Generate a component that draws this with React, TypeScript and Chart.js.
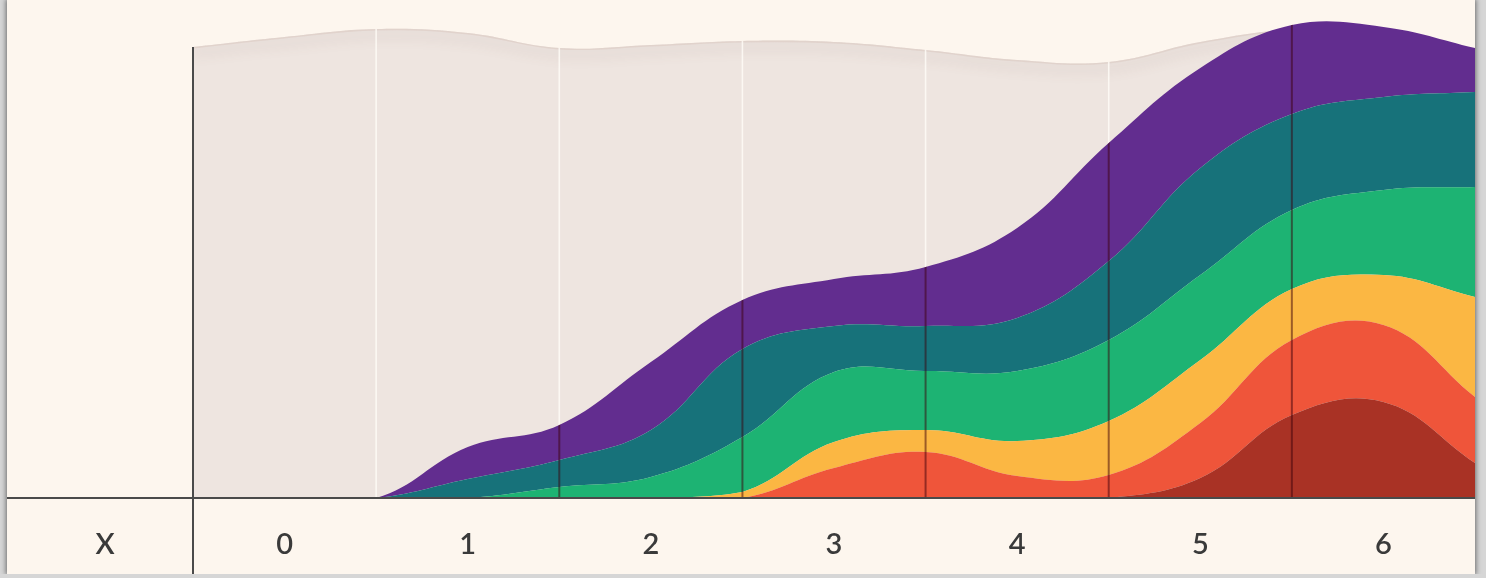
import React, { useEffect, useRef } from "react";
import { Chart, registerables } from "chart.js";

Chart.register(...registerables);

// x positions (category units; categories are the integers, half steps are the grid lines)
const xPositions = [-0.5, 0, 0.5, 1, 1.5, 2, 2.5, 3, 3.5, 4, 4.5, 5, 5.5, 6, 6.5];
const tickValues = [0, 1, 2, 3, 4, 5, 6];
const tickLabels = ["0", "1", "2", "3", "4", "5", "6"];
const rowHeader = "X";
const gridPositions = [0.5, 1.5, 2.5, 3.5, 4.5, 5.5];

// stacked series, bottom to top
const darkRed = [0, 0, 0, 0, 0, 0, 0, 0, 0, 0, 0, 20, 83, 96, 35];
const red = [0, 0, 0, 0, 0, 0, 0, 30, 46, 22, 23, 55, 75, 77, 66];
const yellow = [0, 0, 0, 0, 0, 0, 6, 26, 22, 35, 54, 63, 51, 50, 100];
const green = [0, 0, 0, 0, 11, 21, 55, 70, 59, 70, 81, 85, 79, 85, 110];
const teal = [0, 0, 0, 19, 27, 47, 88, 46, 45, 53, 79, 107, 96, 93, 95];
const purple = [0, 0, 0, 32, 35, 68, 49, 47, 59, 90, 118, 100, 89, 70, 44];
// light backdrop band behind the stack
const backdrop = [451, 461, 469, 465, 450, 453, 457, 456, 448, 438, 436, 456, 468, 463, 443];

const seriesNames = ["Dark red", "Red", "Yellow", "Green", "Teal", "Purple"];
const seriesValues = [darkRed, red, yellow, green, teal, purple];
const seriesColors = ["#A93225", "#EF553A", "#FBB743", "#1DB373", "#17727A", "#622D8F"];

const FONT = "Lato, 'Noto Sans', sans-serif";
const TEXT = "#3a3a3a";
const TENSION = 0.4;

export default function App() {
  const ref = useRef<HTMLCanvasElement>(null);

  useEffect(() => {
    document.body.style.margin = "0";
    document.body.style.background = "#d6d6d6";
    const canvas = ref.current!;
    const mk = (d: number[]) => xPositions.map((x, i) => ({ x, y: d[i] }));

    const datasets: any[] = seriesValues.map((vals, i) => ({
      label: seriesNames[i],
      data: mk(vals),
      backgroundColor: seriesColors[i],
      borderWidth: 0,
      pointRadius: 0,
      pointHoverRadius: 0,
      fill: i === 0 ? "origin" : "-1",
      stack: "main",
      order: 0,
      tension: TENSION,
    }));
    const BG_INDEX = datasets.length;
    const TOP_INDEX = seriesValues.length - 1;
    datasets.push({
      label: "Backdrop",
      data: mk(backdrop),
      backgroundColor: "#EEE5E0",
      borderWidth: 0,
      pointRadius: 0,
      pointHoverRadius: 0,
      fill: "origin",
      stack: "bg",
      order: 1,
      tension: TENSION,
    });

    const clipTo = (chart: any, line: any) => {
      const { ctx, chartArea } = chart;
      ctx.beginPath();
      line.path(ctx);
      ctx.lineTo(chartArea.right, chartArea.bottom);
      ctx.lineTo(chartArea.left, chartArea.bottom);
      ctx.closePath();
      ctx.clip();
    };

    const tablePlugin = {
      id: "tableDecor",
      afterDatasetDraw(chart: any, args: any) {
        if (args.index !== BG_INDEX) return;
        const { ctx, chartArea, scales } = chart;
        const line = args.meta.dataset;
        ctx.save();
        clipTo(chart, line);
        // soft inner shadow along the top edge
        ctx.beginPath();
        line.path(ctx);
        ctx.strokeStyle = "rgba(222,208,200,0.8)";
        ctx.lineWidth = 3;
        ctx.shadowColor = "rgba(120,90,80,0.3)";
        ctx.shadowBlur = 14;
        ctx.shadowOffsetY = 5;
        ctx.stroke();
        ctx.shadowColor = "transparent";
        ctx.shadowBlur = 0;
        ctx.shadowOffsetY = 0;
        ctx.strokeStyle = "rgba(255,252,248,0.8)";
        ctx.lineWidth = 1.6;
        gridPositions.forEach((v) => {
          const px = scales.x.getPixelForValue(v);
          ctx.beginPath();
          ctx.moveTo(px, chartArea.top);
          ctx.lineTo(px, chartArea.bottom);
          ctx.stroke();
        });
        ctx.restore();
      },
      afterDatasetsDraw(chart: any) {
        const { ctx, chartArea, scales } = chart;
        const line = chart.getDatasetMeta(TOP_INDEX).dataset;
        ctx.save();
        clipTo(chart, line);
        ctx.strokeStyle = "rgba(60,0,10,0.5)";
        ctx.lineWidth = 2;
        gridPositions.forEach((v) => {
          const px = scales.x.getPixelForValue(v);
          ctx.beginPath();
          ctx.moveTo(px, chartArea.top);
          ctx.lineTo(px, chartArea.bottom);
          ctx.stroke();
        });
        ctx.restore();
      },
      afterDraw(chart: any) {
        const { ctx, chartArea, scales } = chart;
        ctx.save();
        ctx.strokeStyle = "#4a4a4a";
        ctx.lineWidth = 2;
        ctx.beginPath();
        ctx.moveTo(0, chartArea.bottom);
        ctx.lineTo(chartArea.right, chartArea.bottom);
        ctx.stroke();
        ctx.beginPath();
        ctx.moveTo(chartArea.left, scales.y.getPixelForValue(backdrop[0]));
        ctx.lineTo(chartArea.left, chart.height);
        ctx.stroke();
        ctx.fillStyle = TEXT;
        ctx.font = `600 29px ${FONT}`;
        ctx.textAlign = "center";
        ctx.textBaseline = "middle";
        ctx.fillText(rowHeader, chartArea.left / 2 + 5, chartArea.bottom + 47);
        ctx.restore();
      },
    };

    const chart = new Chart(canvas, {
      type: "line",
      data: { datasets },
      options: {
        animation: false,
        responsive: true,
        maintainAspectRatio: false,
        events: [],
        layout: { padding: { left: 186, right: 0, top: 18, bottom: 0 } },
        plugins: { legend: { display: false }, tooltip: { enabled: false } },
        scales: {
          x: {
            type: "linear",
            min: -0.5,
            max: 6.5,
            grid: { display: false, drawTicks: false },
            border: { display: false },
            afterBuildTicks: (s: any) => {
              s.ticks = tickValues.map((v) => ({ value: v }));
            },
            afterFit: (s: any) => {
              s.height = 76;
            },
            ticks: {
              autoSkip: false,
              maxRotation: 0,
              padding: 29,
              color: TEXT,
              font: { family: FONT, size: 29, weight: "600" },
              callback: (v: any) => {
                const i = tickValues.indexOf(Number(v));
                return i >= 0 ? tickLabels[i] : "";
              },
            },
          },
          y: { stacked: true, display: false, min: 0, max: 480 },
        },
      },
      plugins: [tablePlugin],
    });
    return () => chart.destroy();
  }, []);

  return (
    <div
      style={{
        position: "relative",
        marginLeft: 7,
        width: 1468,
        height: 574,
        background: "#FDF6EE",
        boxShadow: "0 0 5px 1px rgba(0,0,0,0.5)",
      }}
    >
      <canvas ref={ref} style={{ display: "block" }} />
    </div>
  );
}
